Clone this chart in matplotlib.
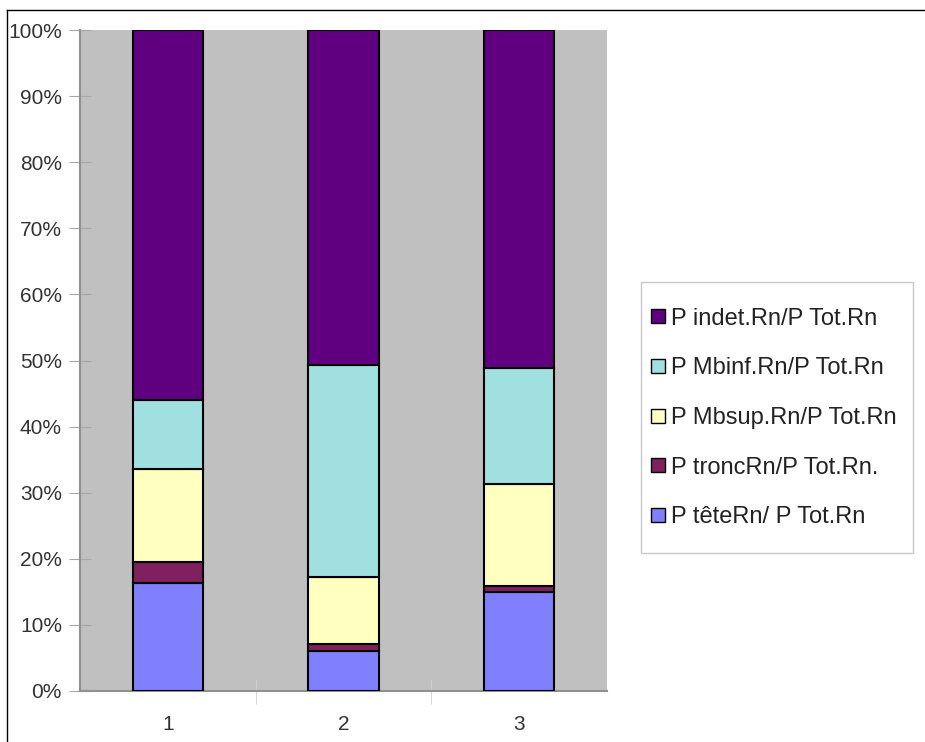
import matplotlib
matplotlib.use('Agg')
import matplotlib.pyplot as plt
from matplotlib.lines import Line2D
from matplotlib.patches import Patch, Rectangle

plt.rcParams['font.family'] = ['Liberation Sans', 'DejaVu Sans']

# données (fractions en %)
categories = ['1', '2', '3']
tete = [16.3, 6.1, 15.0]
tronc = [3.2, 1.0, 0.9]
mbsup = [14.1, 10.2, 15.4]
mbinf = [10.4, 32.0, 17.6]
indet = [56.0, 50.7, 51.1]

labels = ['P têteRn/ P Tot.Rn', 'P troncRn/P Tot.Rn.', 'P Mbsup.Rn/P Tot.Rn',
          'P Mbinf.Rn/P Tot.Rn', 'P indet.Rn/P Tot.Rn']
colors = ['#8080FF', '#80205F', '#FFFFC0', '#A0E0E0', '#600080']
series = [tete, tronc, mbsup, mbinf, indet]

W, H = 925, 742
fig = plt.figure(figsize=(9.25, 7.42), dpi=100, facecolor='white')
ax = fig.add_axes([80 / W, 51 / H, 527 / W, 661 / H])
ax.set_facecolor('#C0C0C0')

x = [1, 2, 3]
bottom = [0, 0, 0]
for vals, col, lab in zip(series, colors, labels):
    ax.bar(x, vals, width=0.4, bottom=bottom, color=col, edgecolor='black',
           linewidth=1.5, label=lab, zorder=3)
    bottom = [b + v for b, v in zip(bottom, vals)]

ax.set_xlim(0.5, 3.5)
ax.set_ylim(0, 100)
ax.set_yticks(range(0, 101, 10))
ax.set_yticklabels([f'{v}%' for v in range(0, 101, 10)], fontsize=15, color='#333333')
ax.set_xticks(x)
ax.set_xticklabels(categories, fontsize=15, color='#333333')
ax.set_xticks([1.5, 2.5], minor=True)
ax.tick_params(axis='x', which='major', length=0, pad=17)
ax.tick_params(axis='x', which='minor', length=18, direction='inout', color='#D0D0D0')
ax.tick_params(axis='y', length=16, direction='inout', color='#A8A8A8', pad=5)

for s in ['top', 'right']:
    ax.spines[s].set_visible(False)
ax.spines['left'].set_color('#909090')
ax.spines['bottom'].set_color('#909090')
ax.spines['left'].set_linewidth(1.5)
ax.spines['bottom'].set_linewidth(1.5)

# cadre de la légende
fig.add_artist(Rectangle((641 / W, 1 - 553 / H), 272 / W, 271 / H,
                         transform=fig.transFigure, facecolor='white',
                         edgecolor='#C8C8C8', lw=1))
handles = [Patch(facecolor=c, edgecolor='black', linewidth=1) for c in colors][::-1]
leg = fig.legend(handles, labels[::-1], loc='center left',
                 bbox_to_anchor=(651 / W, 1 - 418 / H), fontsize=17,
                 labelspacing=1.17, handlelength=0.6, handleheight=0.52,
                 handletextpad=0.25, borderpad=0, frameon=False, borderaxespad=0)
for t in leg.get_texts():
    t.set_color('#222222')

# cadre de la figure (gauche et haut)
fig.add_artist(Line2D([7 / W, 7 / W], [0, 1 - 10 / H], color='black', lw=1))
fig.add_artist(Line2D([7 / W, 1], [1 - 10 / H, 1 - 10 / H], color='black', lw=1))

fig.savefig('out.png', dpi=100)
